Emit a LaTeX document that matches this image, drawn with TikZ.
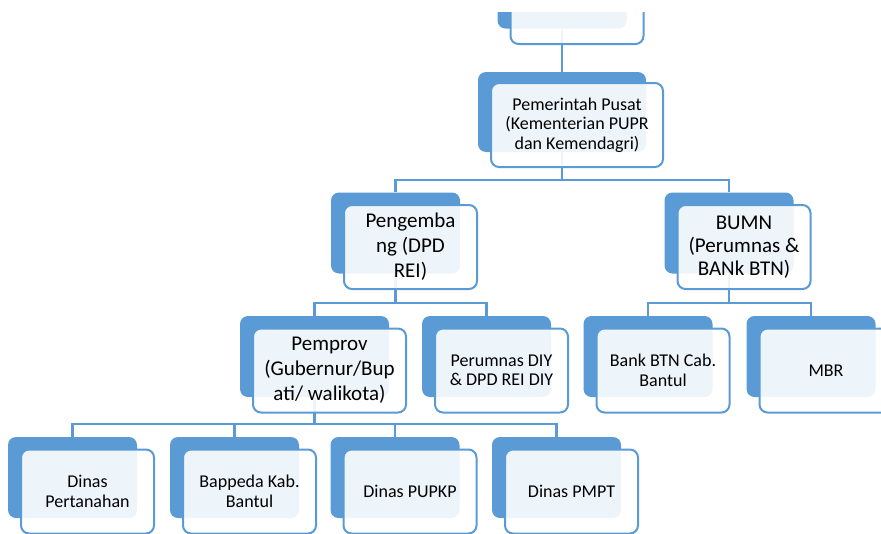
\documentclass[tikz,border=0pt]{standalone}
\usepackage{fontspec}
\setmainfont{Carlito}
\usetikzlibrary{backgrounds}

\definecolor{orgblue}{HTML}{5B9BD5}

\begin{document}
\begin{tikzpicture}[x=1pt, y=-1pt]
    \tikzset{
      back/.style={fill=orgblue, rounded corners=8pt, minimum width=129pt,
        minimum height=81pt, inner sep=0pt},
      front/.style={draw=orgblue, line width=2pt, fill=white, fill opacity=0.9,
        text opacity=1, rounded corners=8pt, minimum width=133pt,
        minimum height=84pt, inner sep=0pt, align=center,
        font=\fontsize{18}{19.5}\selectfont},
      big/.style={font=\fontsize{21}{25}\selectfont},
      link/.style={draw=orgblue, line width=2.2pt},
    }

    \useasboundingbox (0, 0) rectangle (881, 533);
    \clip (0, 12) rectangle (881, 533);

    % Bus levels
    \coordinate (bus1) at (0, 180);
    \coordinate (bus2) at (0, 303);
    \coordinate (bus3) at (0, 424);

    % Top (cut off)
    \node[back] (top) at (562, -12) {};
    \node[front] at ([shift={(15, 14)}]top) (top-f) {};

    % Level 1
    \node[back, minimum width=168pt, minimum height=80pt] (pusat) at (562, 112) {};
    \node[front, minimum width=172pt] at ([shift={(15, 13)}]pusat) (pusat-f)
        {Pemerintah Pusat\\(Kementerian PUPR\\dan Kemendagri)};

    % Level 2
    \node[back] (dev) at (395.5, 233) {};
    \node[front, big] at ([shift={(15, 14)}]dev) (dev-f) {Pengemba\\ng (DPD\\REI)};

    \node[back] (bumn) at (729, 233) {};
    \node[front, font=\fontsize{21}{23}\selectfont] at ([shift={(15, 14)}]bumn) (bumn-f)
        {BUMN\\(Perumnas \&\\BANk BTN)};

    % Level 3
    \node[back, minimum width=149pt] (pemprov) at (314.5, 356.5) {};
    \node[front, big, minimum width=153pt] at ([shift={(15, 14)}]pemprov) (pemprov-f)
        {Pemprov\\(Gubernur/Bup\\ati/ walikota)};

    \node[back] (diy) at (486.5, 356.5) {};
    \node[front] at ([shift={(15, 14)}]diy) (diy-f) {Perumnas DIY\\\& DPD REI DIY};

    \node[back] (btn) at (648, 356.5) {};
    \node[front] at ([shift={(15, 14)}]btn) (btn-f) {Bank BTN Cab.\\Bantul};

    \node[back] (mbr) at (811, 356.5) {};
    \node[front] at ([shift={(15, 14)}]mbr) (mbr-f) {MBR};

    % Level 4
    \node[back] (tanah) at (72.5, 477.5) {};
    \node[front] at ([shift={(15, 14)}]tanah) (tanah-f) {Dinas\\Pertanahan};

    \node[back] (bappeda) at (234.5, 477.5) {};
    \node[front] at ([shift={(15, 14)}]bappeda) (bappeda-f) {Bappeda Kab.\\Bantul};

    \node[back] (pupkp) at (395, 477.5) {};
    \node[front] at ([shift={(15, 14)}]pupkp) (pupkp-f) {Dinas PUPKP};

    \node[back] (pmpt) at (556.5, 477.5) {};
    \node[front] at ([shift={(15, 14)}]pmpt) (pmpt-f) {Dinas PMPT};

    % Connectors behind the boxes
    \begin{scope}[on background layer]
      \draw[link] (top) -- (pusat);
      \draw[link] (pusat) -- (pusat |- bus1) -| (dev);
      \draw[link] (pusat |- bus1) -| (bumn);
      \draw[link] (dev) -- (dev |- bus2) -| (pemprov);
      \draw[link] (dev |- bus2) -| (diy);
      \draw[link] (bumn) -- (bumn |- bus2) -| (btn);
      \draw[link] (bumn |- bus2) -| (mbr);
      \draw[link] (pemprov) -- (pemprov |- bus3) -| (tanah);
      \draw[link] (pemprov |- bus3) -| (bappeda);
      \draw[link] (tanah |- bus3) -| (pupkp);
      \draw[link] (tanah |- bus3) -| (pmpt);
    \end{scope}
\end{tikzpicture}
\end{document}
